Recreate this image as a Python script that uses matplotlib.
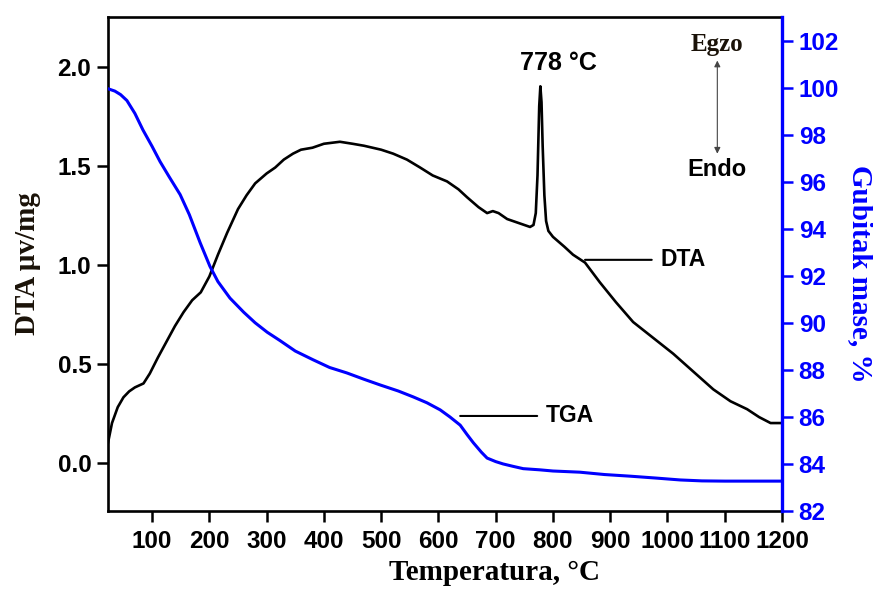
import matplotlib
matplotlib.use('Agg')
import matplotlib.pyplot as plt

# DTA curve (left axis), temperature in C, signal in uV/mg
dta_t = [23, 30, 40, 50, 60, 70, 85, 96, 110, 125, 140, 155, 170, 185, 200, 215,
         231, 250, 265, 280, 300, 315, 330, 346, 360, 380, 400, 428, 450, 470,
         500, 521, 545, 568, 590, 615, 635, 650, 670, 685, 695, 705, 720, 740,
         760, 766, 770, 773, 776, 778, 780, 782, 785, 788, 792, 800, 820, 835,
         856, 882, 910, 940, 975, 1010, 1045, 1080, 1110, 1139, 1160, 1180, 1200]
dta_v = [0.10, 0.20, 0.28, 0.33, 0.36, 0.38, 0.40, 0.45, 0.53, 0.61, 0.69, 0.76,
         0.82, 0.86, 0.94, 1.05, 1.16, 1.28, 1.35, 1.41, 1.46, 1.49, 1.53, 1.56,
         1.58, 1.59, 1.61, 1.62, 1.61, 1.60, 1.58, 1.56, 1.53, 1.49, 1.45, 1.42,
         1.38, 1.34, 1.29, 1.26, 1.27, 1.26, 1.23, 1.21, 1.19, 1.20, 1.26, 1.45,
         1.80, 1.90, 1.82, 1.60, 1.35, 1.22, 1.17, 1.14, 1.09, 1.05, 1.01, 0.91,
         0.81, 0.71, 0.63, 0.55, 0.46, 0.37, 0.31, 0.27, 0.23, 0.20, 0.20]

# TGA curve (right axis), mass in %
tga_t = [23, 35, 45, 56, 70, 84, 100, 114, 130, 149, 165, 184, 201, 215, 236, 260,
         280, 301, 323, 350, 381, 410, 440, 470, 498, 530, 556, 580, 603, 620,
         638, 650, 661, 675, 685, 700, 713, 730, 748, 777, 800, 847, 890, 935,
         980, 1022, 1060, 1100, 1200]
tga_v = [99.95, 99.85, 99.7, 99.45, 98.9, 98.2, 97.5, 96.85, 96.2, 95.45, 94.6,
         93.4, 92.4, 91.75, 91.05, 90.45, 90.0, 89.6, 89.25, 88.8, 88.43, 88.1,
         87.87, 87.6, 87.36, 87.1, 86.85, 86.6, 86.3, 86.0, 85.65, 85.25, 84.9,
         84.5, 84.25, 84.1, 84.0, 83.9, 83.8, 83.75, 83.7, 83.65, 83.55, 83.48,
         83.4, 83.32, 83.28, 83.27, 83.27]

x_ticks = [100, 200, 300, 400, 500, 600, 700, 800, 900, 1000, 1100, 1200]
left_ticks = [0.0, 0.5, 1.0, 1.5, 2.0]
right_ticks = [82, 84, 86, 88, 90, 92, 94, 96, 98, 100, 102]

sans = 'Liberation Sans'
serif = 'Liberation Serif'
blue = '#0000ff'

fig = plt.figure(figsize=(8.73, 5.90), dpi=100)
ax = fig.add_axes([0.1237, 0.1339, 0.7721, 0.8373])
ax2 = ax.twinx()

ax.plot(dta_t, dta_v, color='black', lw=1.9)
ax2.plot(tga_t, tga_v, color=blue, lw=2.2)

ax.set_xlim(23, 1200)
ax.set_ylim(-0.244, 2.25)
ax2.set_ylim(82, 103)

ax.set_xticks(x_ticks)
ax.set_yticks(left_ticks)
ax.set_yticklabels(['%.1f' % v for v in left_ticks])
ax2.set_yticks(right_ticks)

for lab in ax.get_xticklabels() + ax.get_yticklabels():
    lab.set_fontfamily(sans)
    lab.set_fontweight('bold')
    lab.set_fontsize(17.5)
for lab in ax2.get_yticklabels():
    lab.set_fontfamily(sans)
    lab.set_fontweight('bold')
    lab.set_fontsize(17.5)
    lab.set_color(blue)

ax.tick_params(axis='both', direction='out', length=8, width=1.8, pad=4)
ax.tick_params(axis='x', pad=6)
ax2.tick_params(axis='y', direction='out', length=8, width=1.8, pad=4, colors=blue)

for s in ['left', 'bottom', 'top']:
    ax.spines[s].set_linewidth(1.9)
ax.spines['right'].set_visible(False)
ax2.spines['left'].set_visible(False)
ax2.spines['top'].set_visible(False)
ax2.spines['bottom'].set_visible(False)
ax2.spines['right'].set_color(blue)
ax2.spines['right'].set_linewidth(2.4)

ax.set_xlabel('Temperatura, °C', family=serif, weight='bold', fontsize=21)
ax.xaxis.set_label_coords(0.573, -0.097)
ax.set_ylabel('DTA μv/mg', family=serif, weight='bold', fontsize=21,
              color='#1a1208')
ax.yaxis.set_label_coords(-0.099, 0.5)
ax2.set_ylabel('Gubitak mase, %', family=serif, weight='bold', fontsize=21,
               color=blue, rotation=-90, va='center')
ax2.yaxis.set_label_coords(1.117, 0.48)

ax.text(809, 2.02, '778 °C', family=sans, weight='bold', fontsize=18,
        ha='center', va='center')
ax.text(1087, 2.11, 'Egzo', family=serif, weight='bold', fontsize=18,
        ha='center', va='center', color='#1a1208')
ax.text(1087, 1.48, 'Endo', family=sans, weight='bold', fontsize=17,
        ha='center', va='center')
ax.annotate('', xy=(1087, 2.03), xytext=(1087, 1.56),
            arrowprops=dict(arrowstyle='<|-|>', color='#444444', lw=0.8,
                            mutation_scale=9, shrinkA=0, shrinkB=0))

ax.annotate('DTA', xy=(856, 1.024), xytext=(987, 1.024), family=sans,
            weight='bold', fontsize=16.5, ha='left', va='center',
            arrowprops=dict(arrowstyle='-', color='black', lw=1.5,
                            shrinkA=4, shrinkB=0))
ax2.annotate('TGA', xy=(638, 86.04), xytext=(787, 86.04), family=sans,
             weight='bold', fontsize=16.5, ha='left', va='center',
             arrowprops=dict(arrowstyle='-', color='black', lw=1.5,
                             shrinkA=4, shrinkB=0))

fig.savefig('out.png', dpi=100)
